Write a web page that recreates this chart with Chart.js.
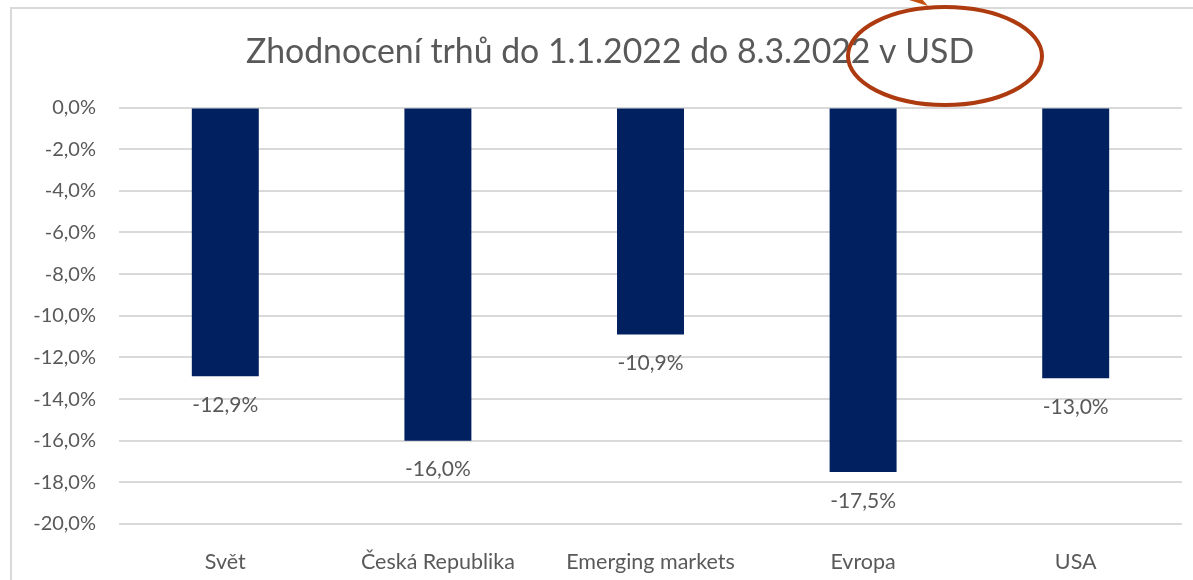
<!DOCTYPE html>
<html>
<head>
<meta charset="utf-8">
<script src="https://cdn.jsdelivr.net/npm/chart.js@4/dist/chart.umd.min.js"></script>
<style>
  html, body { margin: 0; padding: 0; background: #fff; }
  #wrap { width: 1193px; height: 580px; position: relative; }
</style>
</head>
<body>
<div id="wrap"><canvas id="marketChart" width="1193" height="580"></canvas></div>
<script>
const categories = ['Svět', 'Česká Republika', 'Emerging markets', 'Evropa', 'USA'];
const returns = [-12.9, -16.0, -10.9, -17.5, -13.0];
const yTicks = [0, -2, -4, -6, -8, -10, -12, -14, -16, -18, -20];

const fmt = v => v.toFixed(1).replace('.', ',') + '%';
const font = 'Lato, Carlito, Calibri, sans-serif';
const grey = '#595959';

// frame + marker drawn on the canvas
const decor = {
    id: 'decor',
    afterLayout(chart) {
        // title in the original sits a bit right of centre
        if (chart.titleBlock) chart.titleBlock.left = 38;
    },
    beforeDraw(chart) {
        const ctx = chart.ctx;
        ctx.save();
        ctx.fillStyle = '#fff';
        ctx.fillRect(0, 0, chart.width, chart.height);
        ctx.strokeStyle = '#d9d9d9';
        ctx.lineWidth = 2;
        ctx.beginPath();
        ctx.moveTo(11, chart.height + 2);
        ctx.lineTo(11, 8);
        ctx.lineTo(chart.width + 2, 8);
        ctx.stroke();
        ctx.restore();
    },
    afterDraw(chart) {
        const ctx = chart.ctx;
        ctx.save();
        ctx.strokeStyle = '#ae3a10';
        ctx.lineWidth = 4;
        ctx.beginPath();
        ctx.ellipse(945, 56, 97, 49, 0, 0, Math.PI * 2);
        ctx.stroke();
        ctx.fillStyle = '#c4500f';
        ctx.beginPath();
        ctx.moveTo(906, -1);
        ctx.lineTo(928, 6);
        ctx.lineTo(922, -1);
        ctx.closePath();
        ctx.fill();
        ctx.restore();
    }
};

const valueLabels = {
    id: 'valueLabels',
    afterDatasetsDraw(chart) {
        const ctx = chart.ctx;
        const meta = chart.getDatasetMeta(0);
        ctx.save();
        ctx.font = '21px ' + font;
        ctx.fillStyle = grey;
        ctx.textAlign = 'center';
        ctx.textBaseline = 'middle';
        meta.data.forEach((bar, i) => {
            ctx.fillText(fmt(returns[i]), bar.x, bar.y + 29);
        });
        ctx.restore();
    }
};

new Chart(document.getElementById('marketChart'), {
    type: 'bar',
    data: {
        labels: categories,
        datasets: [{
            data: returns,
            backgroundColor: '#002060',
            categoryPercentage: 1,
            barPercentage: 0.315
        }]
    },
    options: {
        responsive: false,
        animation: false,
        layout: { padding: { top: 2, right: 11, left: 0, bottom: 0 } },
        plugins: {
            legend: { display: false },
            tooltip: { enabled: false },
            title: {
                display: true,
                text: 'Zhodnocení trhů do 1.1.2022 do 8.3.2022 v USD',
                color: grey,
                font: { family: font, size: 33.8, weight: 'normal' },
                padding: { top: 30, bottom: 35 }
            }
        },
        scales: {
            x: {
                grid: { display: false },
                border: { display: false },
                ticks: { color: grey, font: { family: font, size: 21.5 }, padding: 17 },
                afterFit: s => { s.height = 56; }
            },
            y: {
                min: -20,
                max: 0,
                afterBuildTicks: s => { s.ticks = yTicks.map(v => ({ value: v })); },
                grid: { color: '#d9d9d9', lineWidth: 2, drawTicks: false },
                border: { display: false },
                ticks: { color: grey, font: { family: font, size: 20 }, padding: 23, callback: v => fmt(v) },
                afterFit: s => { s.width = 119; }
            }
        }
    },
    plugins: [decor, valueLabels]
});
</script>
</body>
</html>
